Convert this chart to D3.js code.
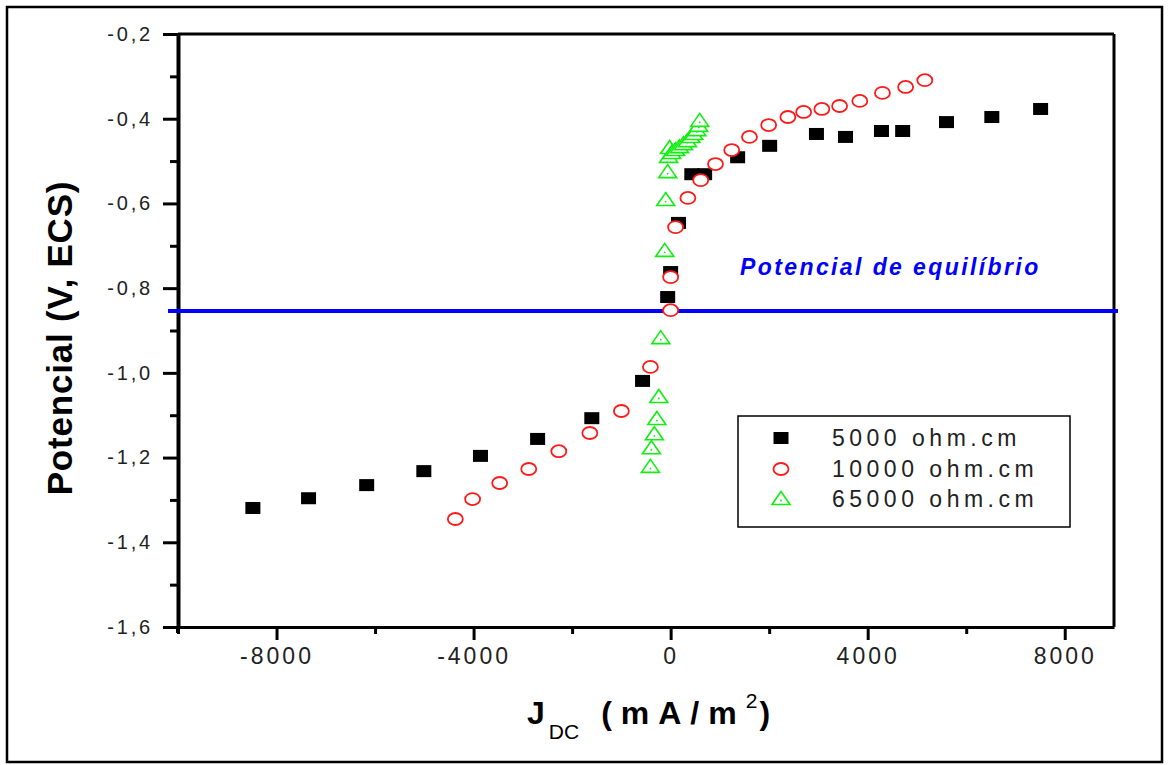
<!DOCTYPE html>
<html>
<head>
<meta charset="utf-8">
<script src="https://cdn.jsdelivr.net/npm/d3@7"></script>
<style>
  body { margin: 0; background: #fff; }
  svg { display: block; font-family: "Liberation Sans", Arial, sans-serif; }
</style>
</head>
<body>
<div id="chart"></div>
<script>
// data: current density (mA/m2) and potential (V, ECS)
const j5000 = [-8480, -7350, -6170, -5010, -3860, -2700, -1600, -570, -60, 0, 160, 430, 690, 1360, 2010, 2960, 3550, 4280, 4710, 5600, 6520, 7510];
const e5000 = [-1.319, -1.296, -1.265, -1.232, -1.196, -1.156, -1.107, -1.019, -0.821, -0.762, -0.646, -0.531, -0.531, -0.491, -0.464, -0.436, -0.443, -0.429, -0.429, -0.408, -0.396, -0.377];

const j10000 = [-4370, -4020, -3470, -2880, -2270, -1640, -1000, -410, 0, 0, 100, 350, 610, 910, 1240, 1600, 1990, 2380, 2700, 3070, 3430, 3840, 4300, 4770, 5160];
const e10000 = [-1.345, -1.298, -1.260, -1.227, -1.185, -1.142, -1.090, -0.986, -0.852, -0.774, -0.656, -0.587, -0.545, -0.507, -0.474, -0.443, -0.415, -0.396, -0.384, -0.377, -0.370, -0.358, -0.339, -0.325, -0.309];

const j65000 = [-410, -390, -330, -280, -240, -200, -120, -100, -60, -40, -20, 20, 100, 180, 260, 340, 410, 470, 530, 570, 590];
const e65000 = [-1.222, -1.178, -1.145, -1.109, -1.057, -0.918, -0.712, -0.592, -0.526, -0.490, -0.469, -0.481, -0.474, -0.467, -0.460, -0.453, -0.443, -0.436, -0.427, -0.417, -0.405];

const seriesNames = ["5000 ohm.cm", "10000 ohm.cm", "65000 ohm.cm"];
const equilibrium = -0.854;
const equilibriumLabel = "Potencial de equilíbrio";

const xMajor = [-8000, -4000, 0, 4000, 8000];
const xMinor = [-10000, -6000, -2000, 2000, 6000];
const yMajor = [-0.2, -0.4, -0.6, -0.8, -1.0, -1.2, -1.4, -1.6];
const yMinor = [-0.3, -0.5, -0.7, -0.9, -1.1, -1.3, -1.5];

const width = 1170, height = 765;
const plotLeft = 178, plotRight = 1114, plotTop = 34, plotBottom = 627;

const svg = d3.select("#chart").append("svg")
    .attr("width", width)
    .attr("height", height);

// outer frame of the figure
svg.append("rect")
    .attr("x", 7).attr("y", 7)
    .attr("width", 1155).attr("height", 755)
    .attr("fill", "none").attr("stroke", "#000").attr("stroke-width", 2.5);

const x = d3.scaleLinear().domain([-10000, 9000]).range([plotLeft, plotRight]);
const y = d3.scaleLinear().domain([-1.6, -0.2]).range([plotBottom, plotTop]);

const locale = d3.formatLocale({decimal: ",", thousands: ".", grouping: [3], currency: ["", ""], minus: "-"});
const fmtY = locale.format(".1f");
const fmtX = locale.format("d");

// y axis
const yAxis = svg.append("g")
    .attr("transform", `translate(${plotLeft},0)`)
    .call(d3.axisLeft(y).tickValues(yMajor).tickSize(15).tickSizeOuter(0).tickPadding(10).tickFormat(fmtY));
yAxis.append("g")
    .call(d3.axisLeft(y).tickValues(yMinor).tickSize(8).tickFormat(""))
    .select(".domain").remove();
yAxis.selectAll(".tick line").attr("stroke-width", 3);
yAxis.select(".domain").attr("stroke-width", 4);
yAxis.selectAll(".tick text")
    .attr("font-size", 20)
    .attr("letter-spacing", 2.8)
    .attr("fill", "#222");

// x axis
const xAxis = svg.append("g")
    .attr("transform", `translate(0,${plotBottom})`)
    .call(d3.axisBottom(x).tickValues(xMajor).tickSize(13).tickSizeOuter(0).tickPadding(8).tickFormat(fmtX));
xAxis.append("g")
    .call(d3.axisBottom(x).tickValues(xMinor).tickSize(7).tickFormat(""))
    .select(".domain").remove();
xAxis.selectAll(".tick line").attr("stroke-width", 3);
xAxis.select(".domain").attr("stroke-width", 3);
xAxis.selectAll(".tick text")
    .attr("font-size", 23)
    .attr("letter-spacing", 3)
    .attr("fill", "#222");

// top and right frame
svg.append("line").attr("x1", plotLeft).attr("x2", plotRight).attr("y1", plotTop).attr("y2", plotTop)
    .attr("stroke", "#000").attr("stroke-width", 3);
svg.append("line").attr("x1", plotRight).attr("x2", plotRight).attr("y1", plotTop).attr("y2", plotBottom)
    .attr("stroke", "#000").attr("stroke-width", 3);
svg.append("line").attr("x1", plotLeft).attr("x2", plotLeft).attr("y1", plotBottom).attr("y2", plotBottom + 6)
    .attr("stroke", "#000").attr("stroke-width", 4);

// axis titles
svg.append("text")
    .attr("transform", "translate(72,338) rotate(-90)")
    .attr("text-anchor", "middle")
    .attr("font-size", 35)
    .attr("font-weight", "bold")
    .attr("letter-spacing", 0.8)
    .text("Potencial (V, ECS)");

const xt = svg.append("text")
    .attr("x", 527).attr("y", 724)
    .attr("font-size", 32)
    .attr("font-weight", "bold");
xt.append("tspan").text("J");
xt.append("tspan").attr("font-size", 21).attr("font-weight", "normal").attr("dy", 15).attr("dx", 4).text("DC");
xt.append("tspan").attr("dy", -15).attr("dx", 22).attr("letter-spacing", 9).text("(mA/m");
xt.append("tspan").attr("font-size", 21).attr("font-weight", "normal").attr("dy", -16).attr("dx", 0).text("2");
xt.append("tspan").attr("dy", 16).attr("dx", 2).text(")");

// equilibrium potential
svg.append("line")
    .attr("x1", 168).attr("x2", plotRight + 4)
    .attr("y1", y(equilibrium)).attr("y2", y(equilibrium))
    .attr("stroke", "#0000ff").attr("stroke-width", 4);
svg.append("text")
    .attr("x", 740).attr("y", 275)
    .attr("font-size", 23)
    .attr("font-weight", "bold")
    .attr("font-style", "italic")
    .attr("letter-spacing", 2.4)
    .attr("fill", "#0000ff")
    .text(equilibriumLabel);

// markers
const sq = (g) => g.append("rect").attr("x", -7.5).attr("y", -6).attr("width", 15).attr("height", 12).attr("fill", "#000");
const circ = (g) => g.append("ellipse").attr("rx", 7.5).attr("ry", 6).attr("fill", "#fff").attr("stroke", "#ff1a1a").attr("stroke-width", 1.8);
const tri = (g) => {
  g.append("path").attr("d", "M0,-7.5L9,5.5L-9,5.5Z").attr("fill", "#fff").attr("stroke", "#11ee11").attr("stroke-width", 1.6);
  g.append("circle").attr("cx", 0).attr("cy", 1.5).attr("r", 0.9).attr("fill", "#11ee11");
};

const series = [
  {j: j5000, e: e5000, mark: sq},
  {j: j10000, e: e10000, mark: circ},
  {j: j65000, e: e65000, mark: tri}
];

series.forEach(s => {
  const pts = s.j.map((v, i) => [v, s.e[i]]);
  svg.append("g").selectAll("g")
    .data(pts)
    .enter()
    .append("g")
    .attr("transform", d => `translate(${x(d[0])},${y(d[1])})`)
    .each(function() { s.mark(d3.select(this)); });
});

// legend
const legend = svg.append("g");
legend.append("rect")
    .attr("x", 738).attr("y", 416).attr("width", 332).attr("height", 111)
    .attr("fill", "#fff").attr("stroke", "#000").attr("stroke-width", 1.5);
const rowY = [438, 469, 499];
series.forEach((s, i) => {
  const g = legend.append("g").attr("transform", `translate(781,${rowY[i]})`);
  s.mark(g);
  legend.append("text")
    .attr("x", 832).attr("y", rowY[i])
    .attr("dominant-baseline", "central")
    .attr("font-size", 23)
    .attr("letter-spacing", 4.5)
    .attr("fill", "#222")
    .text(seriesNames[i]);
});
</script>
</body>
</html>
